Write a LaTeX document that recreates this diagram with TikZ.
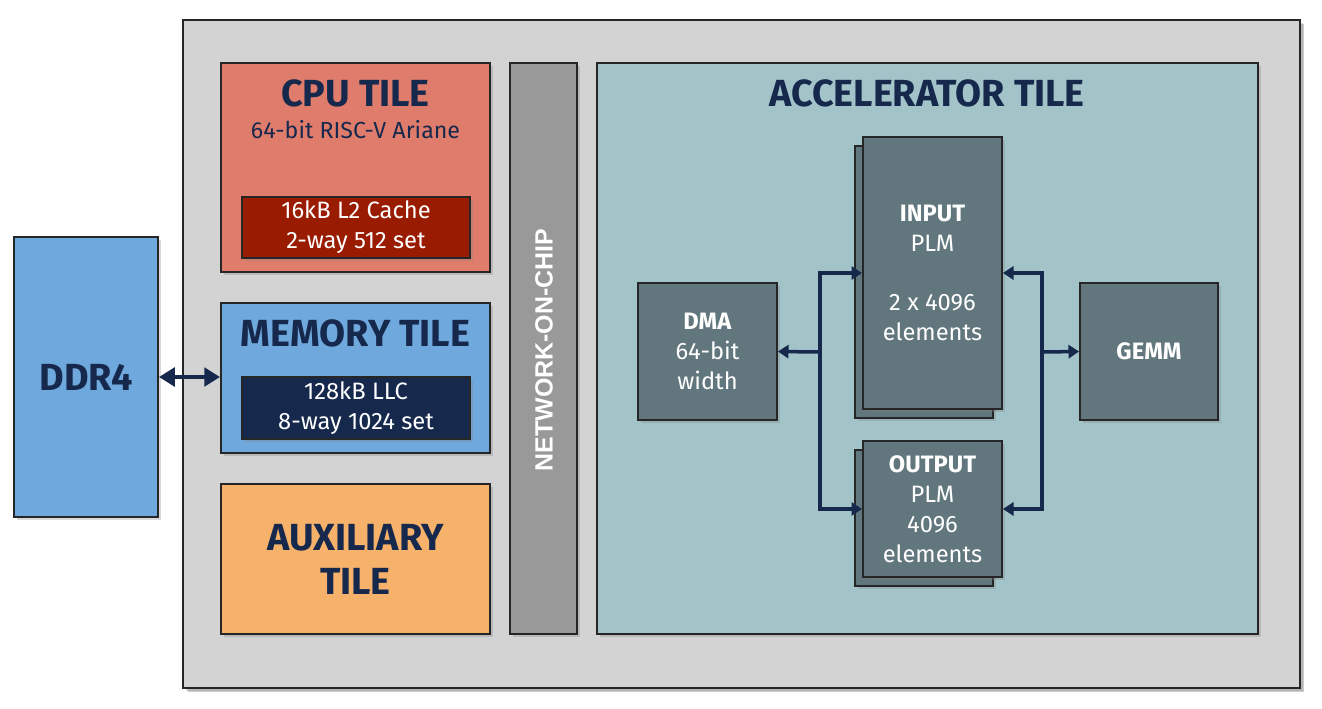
\documentclass[tikz,border=0pt]{standalone}
\usepackage{fontspec}
\setmainfont{Fira Sans}
\newfontfamily\nocfont{Liberation Sans}
\usetikzlibrary{arrows.meta, shadows, calc}
\definecolor{navyText}{RGB}{22, 41, 77}
\definecolor{chipGris}{RGB}{211, 211, 211}
\definecolor{cpuRojo}{RGB}{224, 124, 107}
\definecolor{cacheRojo}{RGB}{153, 27, 0}
\definecolor{memAzul}{RGB}{111, 168, 220}
\definecolor{llcAzul}{RGB}{22, 40, 75}
\definecolor{auxNaranja}{RGB}{246, 178, 107}
\definecolor{nocGris}{RGB}{153, 153, 153}
\definecolor{accVerde}{RGB}{162, 196, 201}
\definecolor{bloqueGris}{RGB}{98, 119, 125}

\begin{document}
\begin{tikzpicture}[x=0.02cm, y=-0.02cm,
    caja/.style={draw=black!85, line width=1.1pt, inner sep=0pt, align=center,
      drop shadow={shadow xshift=1.5pt, shadow yshift=-1.5pt, opacity=0.3}},
    titulo/.style={font=\fontsize{21.5}{25}\selectfont\bfseries, text=navyText, align=center},
    texto/.style={font=\fontsize{13.5}{17}\selectfont, text=white},
    bloque/.style={caja, fill=bloqueGris, texto},
    enlace/.style={draw=navyText, line width=2pt, -{Triangle[length=6pt, width=7.5pt]}}]

    \useasboundingbox (0,0) rectangle (1322,708);

    % Chip y memoria externa
    \node[caja, fill=chipGris, minimum width=22.34cm, minimum height=13.36cm,
      drop shadow={shadow xshift=2.5pt, shadow yshift=-2.5pt, opacity=0.4}] (chip) at (741.5,354) {};
    \node[caja, fill=memAzul, minimum width=2.88cm, minimum height=5.6cm, titulo] (ddr) at (86,377) {DDR4};

    % Tiles de la izquierda
    \node[caja, fill=cpuRojo, minimum width=5.38cm, minimum height=4.18cm] (cpu) at (355.5,167.5) {};
    \node[titulo, anchor=base] (cputitulo) at (355.5,106) {CPU TILE};
    \node[font=\fontsize{13.2}{15}\selectfont, text=navyText, anchor=base] (cpusub) at (355.5,138) {64-bit RISC-V Ariane};
    \node[caja, fill=cacheRojo, minimum width=4.56cm, minimum height=1.22cm, texto] (cache) at (356,227.5) {16kB L2 Cache\\2-way 512 set};

    \node[caja, fill=memAzul, minimum width=5.38cm, minimum height=3cm] (mem) at (355.5,378) {};
    \node[titulo, anchor=base] (memtitulo) at (355.5,346.5) {MEMORY TILE};
    \node[caja, fill=llcAzul, minimum width=4.56cm, minimum height=1.24cm, texto] (llc) at (356,408) {128kB LLC\\8-way 1024 set};

    \node[caja, fill=auxNaranja, minimum width=5.38cm, minimum height=3cm, titulo] (aux) at (355.5,559) {AUXILIARY\\TILE};

    % Network-on-chip
    \node[caja, fill=nocGris, minimum width=1.34cm, minimum height=11.42cm] (noc) at (543.5,348.5) {};
    \node[rotate=90, font=\nocfont\bfseries\fontsize{14.2}{18}\selectfont, text=white] (noctexto) at (544,350) {NETWORK-ON-CHIP};

    % Acelerador
    \node[caja, fill=accVerde, minimum width=13.22cm, minimum height=11.42cm] (acc) at (927.5,348.5) {};
    \node[titulo, anchor=base] (acctitulo) at (927,106) {ACCELERATOR TILE};

    \node[bloque, minimum width=2.78cm, minimum height=2.74cm] (dma) at (707.5,351.5) {\textbf{DMA}\\64-bit\\width};
    \node[bloque, minimum width=2.76cm, minimum height=5.44cm] (inputatras) at (924,282) {};
    \node[bloque, minimum width=2.78cm, minimum height=5.44cm] (input) at (932.5,273) {\textbf{INPUT}\\PLM\\[17pt]2 x 4096\\elements};
    \node[bloque, minimum width=2.76cm, minimum height=2.72cm] (outputatras) at (924,518) {};
    \node[bloque, minimum width=2.78cm, minimum height=2.72cm] (output) at (932.5,509) {\textbf{OUTPUT}\\PLM\\4096\\elements};
    \node[bloque, minimum width=2.76cm, minimum height=2.74cm] (gemm) at (1149,351.5) {\textbf{GEMM}};

    % Conexiones
    \coordinate (busizq) at (820,352);
    \coordinate (busder) at (1042,352);
    \draw[enlace] (busizq) -- (dma.east);
    \draw[enlace] (busizq) |- (input.west);
    \draw[enlace] (busizq) |- (output.west);
    \draw[enlace] (busder) -- (gemm.west);
    \draw[enlace] (busder) |- (input.east);
    \draw[enlace] (busder) |- (output.east);

    \draw[draw=navyText, line width=2.8pt, {Triangle[length=9pt, width=10.5pt]}-{Triangle[length=9pt, width=10.5pt]}]
      (ddr.east) -- (ddr.east -| mem.west);
\end{tikzpicture}
\end{document}
